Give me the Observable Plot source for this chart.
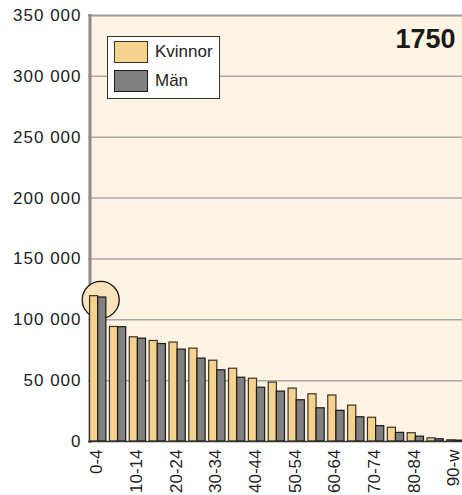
<!DOCTYPE html>
<html>
<head>
<meta charset="utf-8">
<script src="https://cdn.jsdelivr.net/npm/d3@7"></script>
<script src="https://cdn.jsdelivr.net/npm/@observablehq/plot@0.6"></script>
<style>
  html, body { margin: 0; padding: 0; background: #fff; overflow: hidden; }
  #wrap { position: relative; width: 462px; height: 495px; font-family: "Liberation Sans", Arial, sans-serif; color: #222; }
  #wrap svg { max-width: none; }
  #wrap g[aria-label="y-axis tick label"] text { letter-spacing: 1px; }
  .legend { position: absolute; left: 107px; top: 36px; width: 111px; height: 61px; background: #fff; border: 1.5px solid #333; }
  .legend .row { position: absolute; left: 6px; display: flex; align-items: center; font-size: 17px; }
  .legend .sw { width: 32px; height: 20px; margin-right: 7px; }
</style>
</head>
<body>
<div id="wrap"></div>
<script>
const groups = ["0-4","5-9","10-14","15-19","20-24","25-29","30-34","35-39","40-44","45-49","50-54","55-59","60-64","65-69","70-74","75-79","80-84","85-89","90-w"];
const kvinnor = [119400, 94100, 85600, 82600, 81300, 76300, 66400, 59800, 51600, 48400, 43500, 38800, 37800, 29500, 19500, 11300, 6800, 2600, 1000];
const man = [118300, 93900, 84500, 80100, 75500, 68100, 58500, 52400, 44200, 41000, 33900, 27300, 25200, 19900, 12600, 7100, 4000, 1800, 700];
const yTicks = [0, 50000, 100000, 150000, 200000, 250000, 300000, 350000];
const xLabels = groups.filter((d, i) => i % 2 === 0);
const seriesNames = ["Kvinnor", "Män"];
const title = "1750";
const highlight = [{group: "0-4", value: 116400}];

const colK = "#f5d28e", strokeK = "#3b3226";
const colM = "#808080", strokeM = "#1a1a1a";

const rowsK = groups.map((g, i) => ({group: g, value: kvinnor[i]}));
const rowsM = groups.map((g, i) => ({group: g, value: man[i]}));

const pad = 0.18;
const xRange = [86, 86 + 19.85 * (groups.length + pad)];
const step = (xRange[1] - xRange[0]) / (groups.length + pad);
const bw = step * (1 - pad);
const half = bw / 2;

const fmt = d => d3.format(",")(d).replace(/,/g, " ");

const chart = Plot.plot({
  width: 462,
  height: 495,
  marginTop: 15,
  marginBottom: 54,
  marginLeft: 88,
  marginRight: 0,
  style: {fontFamily: "'Liberation Sans', Arial, sans-serif", fontSize: "17px", color: "#222", background: "#fff", overflow: "hidden"},
  x: {type: "band", domain: groups, range: xRange, padding: pad, round: false},
  y: {domain: [0, 350000], range: [441, 15]},
  marks: [
    Plot.frame({fill: "#fcf3e2", stroke: null}),
    Plot.ruleY(yTicks.filter(d => d > 0 && d < 350000), {stroke: "#a8a8a8", strokeWidth: 1.5}),
    Plot.ruleY([350000], {stroke: "#9a9a9a", strokeWidth: 2}),
    Plot.frame({anchor: "left", stroke: "#8a8a8a", strokeWidth: 3, dx: 1.5}),
    Plot.dot(highlight, {x: "group", y: "value", r: 18.5, dx: 2.5, fill: "#f8e3bb", stroke: "#111", strokeWidth: 1.3}),
    Plot.barY(rowsK, {x: "group", y: "value", insetRight: half, fill: colK, stroke: strokeK, strokeWidth: 1.2}),
    Plot.barY(rowsM, {x: "group", y: "value", insetLeft: half, fill: colM, stroke: strokeM, strokeWidth: 1.2}),
    Plot.ruleY([0], {stroke: "#333", strokeWidth: 1.5}),
    Plot.axisY({ticks: yTicks, tickSize: 0, tickPadding: 7, tickFormat: fmt, label: null, fontSize: 17}),
    Plot.axisX({ticks: xLabels, tickSize: 0, tickPadding: 8, tickRotate: -90, label: null, fontSize: 17, dx: -1.5}),
    Plot.text([title], {text: d => d, frameAnchor: "top-right", textAnchor: "end", lineAnchor: "top", dx: -7, dy: 13, fontSize: 27, fontWeight: "bold", fill: "#1a1a1a"})
  ]
});

const wrap = document.getElementById("wrap");
wrap.appendChild(chart);

const legend = document.createElement("div");
legend.className = "legend";
[[seriesNames[0], colK, strokeK], [seriesNames[1], colM, strokeM]].forEach(([name, fill, stroke], i) => {
  const row = document.createElement("div");
  row.className = "row";
  row.style.top = (4 + i * 29) + "px";
  const sw = document.createElement("div");
  sw.className = "sw";
  sw.style.background = fill;
  sw.style.border = "1.2px solid " + stroke;
  const lab = document.createElement("span");
  lab.textContent = name;
  row.appendChild(sw);
  row.appendChild(lab);
  legend.appendChild(row);
});
wrap.appendChild(legend);
</script>
</body>
</html>
